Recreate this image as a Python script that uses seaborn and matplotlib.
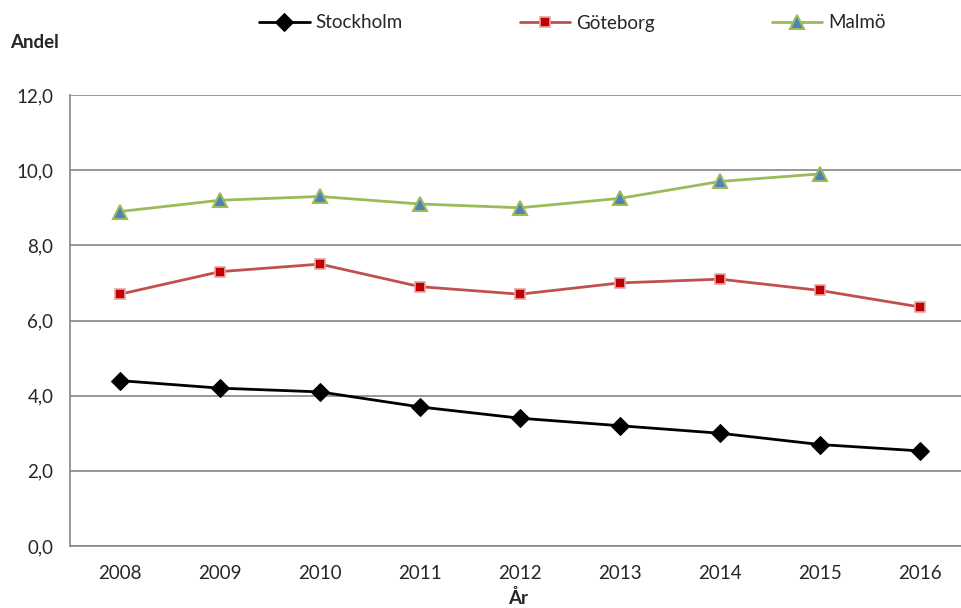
import numpy as np
import pandas as pd
import matplotlib
matplotlib.use("Agg")
import matplotlib.pyplot as plt
import seaborn as sns
from matplotlib.ticker import FuncFormatter, FixedLocator

years = [2008, 2009, 2010, 2011, 2012, 2013, 2014, 2015, 2016]
stockholm = [4.4, 4.2, 4.1, 3.7, 3.4, 3.2, 3.0, 2.7, 2.53]
goteborg = [6.7, 7.3, 7.5, 6.9, 6.7, 7.0, 7.1, 6.8, 6.36]
malmo = [8.9, 9.2, 9.3, 9.1, 9.0, 9.25, 9.7, 9.9, np.nan]

sns.set_style("white")
plt.rcParams['font.family'] = ['Lato', 'DejaVu Sans']

fig = plt.figure(figsize=(9.61, 6.08), dpi=100)
ax = fig.add_axes([70 / 961, 62 / 608, 900 / 961, 451 / 608])

pos = np.arange(len(years))
grid_col = '#868686'
fs = 13.5

# series styles
styles = [
    ('Stockholm', stockholm, dict(color='black', marker='D', markersize=9,
                                  markerfacecolor='black', markeredgecolor='black')),
    ('Göteborg', goteborg, dict(color='#C0504D', marker='s', markersize=6.5,
                                markerfacecolor='#C00000', markeredgecolor='#E6A5A4',
                                markeredgewidth=1.2)),
    ('Malmö', malmo, dict(color='#9BBB59', marker='^', markersize=10,
                          markerfacecolor='#4F81BD', markeredgecolor='#9BBB59',
                          markeredgewidth=1.5)),
]

for name, vals, kw in styles:
    sns.lineplot(x=pos, y=vals, ax=ax, label=name, linewidth=2, **kw)

ax.set_xlim(-0.5, 8.5)
ax.set_ylim(0, 12)
ax.set_yticks(np.arange(0, 12.1, 2))
ax.yaxis.set_major_formatter(FuncFormatter(lambda v, p: f"{v:.1f}".replace('.', ',')))
ax.grid(axis='y', color=grid_col, linewidth=1.2)
ax.set_axisbelow(True)

# tick marks between categories, labels at centres
ax.xaxis.set_major_locator(FixedLocator(np.arange(-0.5, 8.6, 1)))
ax.set_xticklabels([])
ax.set_xticks(pos, minor=True)
ax.set_xticklabels([str(y) for y in years], minor=True)
ax.tick_params(axis='x', which='major', length=6, width=1.2, color=grid_col, direction='out')
ax.tick_params(axis='x', which='minor', length=0, pad=14, labelsize=fs)
ax.tick_params(axis='y', length=7, width=1.2, color=grid_col, direction='out', pad=5, labelsize=fs)

for s in ['top', 'right']:
    ax.spines[s].set_visible(False)
for s in ['left', 'bottom']:
    ax.spines[s].set_color(grid_col)
    ax.spines[s].set_linewidth(1.2)

ax.set_xlabel('')
ax.set_ylabel('')
fig.text(10 / 961, 1 - 43 / 608, 'Andel', fontsize=fs, fontweight='bold', va='center', ha='left')
fig.text(518 / 961, 1 - 598 / 608, 'År', fontsize=fs, fontweight='bold', va='center', ha='center')

handles, labels = ax.get_legend_handles_labels()
ax.legend_.remove()
fig.legend(handles, labels, loc='center left', bbox_to_anchor=(259 / 961, 1 - 23 / 608),
           ncol=3, frameon=False, fontsize=fs, handlelength=2.7, handletextpad=0.3,
           columnspacing=6.25, borderaxespad=0, borderpad=0)

fig.savefig('out.png', dpi=100)
